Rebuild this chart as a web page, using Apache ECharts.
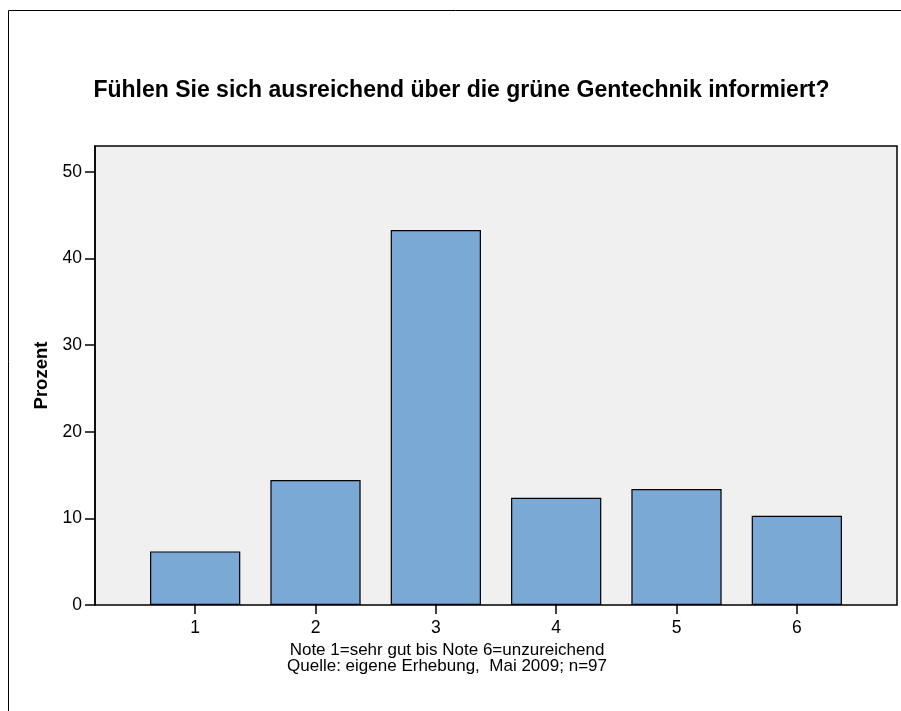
<!DOCTYPE html>
<html>
<head>
<meta charset="utf-8">
<script src="https://cdn.jsdelivr.net/npm/echarts@6/dist/echarts.min.js"></script>
<style>html,body{margin:0;padding:0;background:#fff}#c{width:901px;height:711px}</style>
</head>
<body>
<div id="c"></div>
<script>
const categories = ['1', '2', '3', '4', '5', '6'];
const prozent = [6.19, 14.43, 43.30, 12.37, 13.40, 10.31];
const yTicks = [0, 10, 20, 30, 40, 50];
const titleText = 'Fühlen Sie sich ausreichend über die grüne Gentechnik informiert?';
const noteLines = ['Note 1=sehr gut bis Note 6=unzureichend', 'Quelle: eigene Erhebung,  Mai 2009; n=97'];
const yName = 'Prozent';

const FONT = '"Liberation Sans", Arial, sans-serif';
const chart = echarts.init(document.getElementById('c'), null, {renderer: 'canvas'});
chart.setOption({
  backgroundColor: '#ffffff',
  animation: false,
  graphic: [
    {type: 'rect', shape: {x: 8.5, y: 10.5, width: 1200, height: 1200}, style: {fill: 'none', stroke: '#000', lineWidth: 1}, silent: true, z: -10},
    {type: 'text', x: 461.5, y: 90.5, style: {text: titleText, font: 'bold 23px ' + FONT, fill: '#000', textAlign: 'center', textVerticalAlign: 'middle'}},
    {type: 'text', x: 447, y: 650, style: {text: noteLines[0], font: '17px ' + FONT, fill: '#000', textAlign: 'center', textVerticalAlign: 'middle'}},
    {type: 'text', x: 447, y: 666, style: {text: noteLines[1], font: '17px ' + FONT, fill: '#000', textAlign: 'center', textVerticalAlign: 'middle'}}
  ],
  grid: [
    {left: 95, right: 4, top: 146, bottom: 106, show: true, backgroundColor: '#f0f0f0', borderColor: '#000', borderWidth: 1.5, containLabel: false},
    {left: 135, right: 44, top: 146, bottom: 106, containLabel: false}
  ],
  xAxis: [
    {type: 'category', gridIndex: 0, data: categories, show: false},
    {type: 'category', gridIndex: 1, data: categories,
      axisLine: {show: false},
      axisTick: {show: true, alignWithLabel: true, inside: false, length: 9, lineStyle: {color: '#000', width: 1.5}},
      axisLabel: {color: '#000', fontFamily: FONT, fontSize: 17.5, margin: 14}
    }
  ],
  yAxis: [
    {type: 'value', gridIndex: 0, min: 0, max: 53, interval: 10,
      name: yName, nameLocation: 'middle', nameGap: 42, nameRotate: 90,
      nameTextStyle: {color: '#000', fontFamily: FONT, fontSize: 18.5, fontWeight: 'bold'},
      splitLine: {show: false},
      axisLine: {show: true, lineStyle: {color: '#000', width: 1.5}},
      axisTick: {show: true, inside: false, length: 10, customValues: yTicks, lineStyle: {color: '#000', width: 1.5}},
      axisLabel: {color: '#000', fontFamily: FONT, fontSize: 17.5, margin: 13, customValues: yTicks}
    },
    {type: 'value', gridIndex: 1, min: 0, max: 53, interval: 10, show: false, splitLine: {show: false}}
  ],
  series: [{
    type: 'bar', xAxisIndex: 1, yAxisIndex: 1, data: prozent, barWidth: '75%',
    itemStyle: {color: '#7ba9d6', borderColor: '#000', borderWidth: 1.2}
  }]
});
</script>
</body>
</html>
